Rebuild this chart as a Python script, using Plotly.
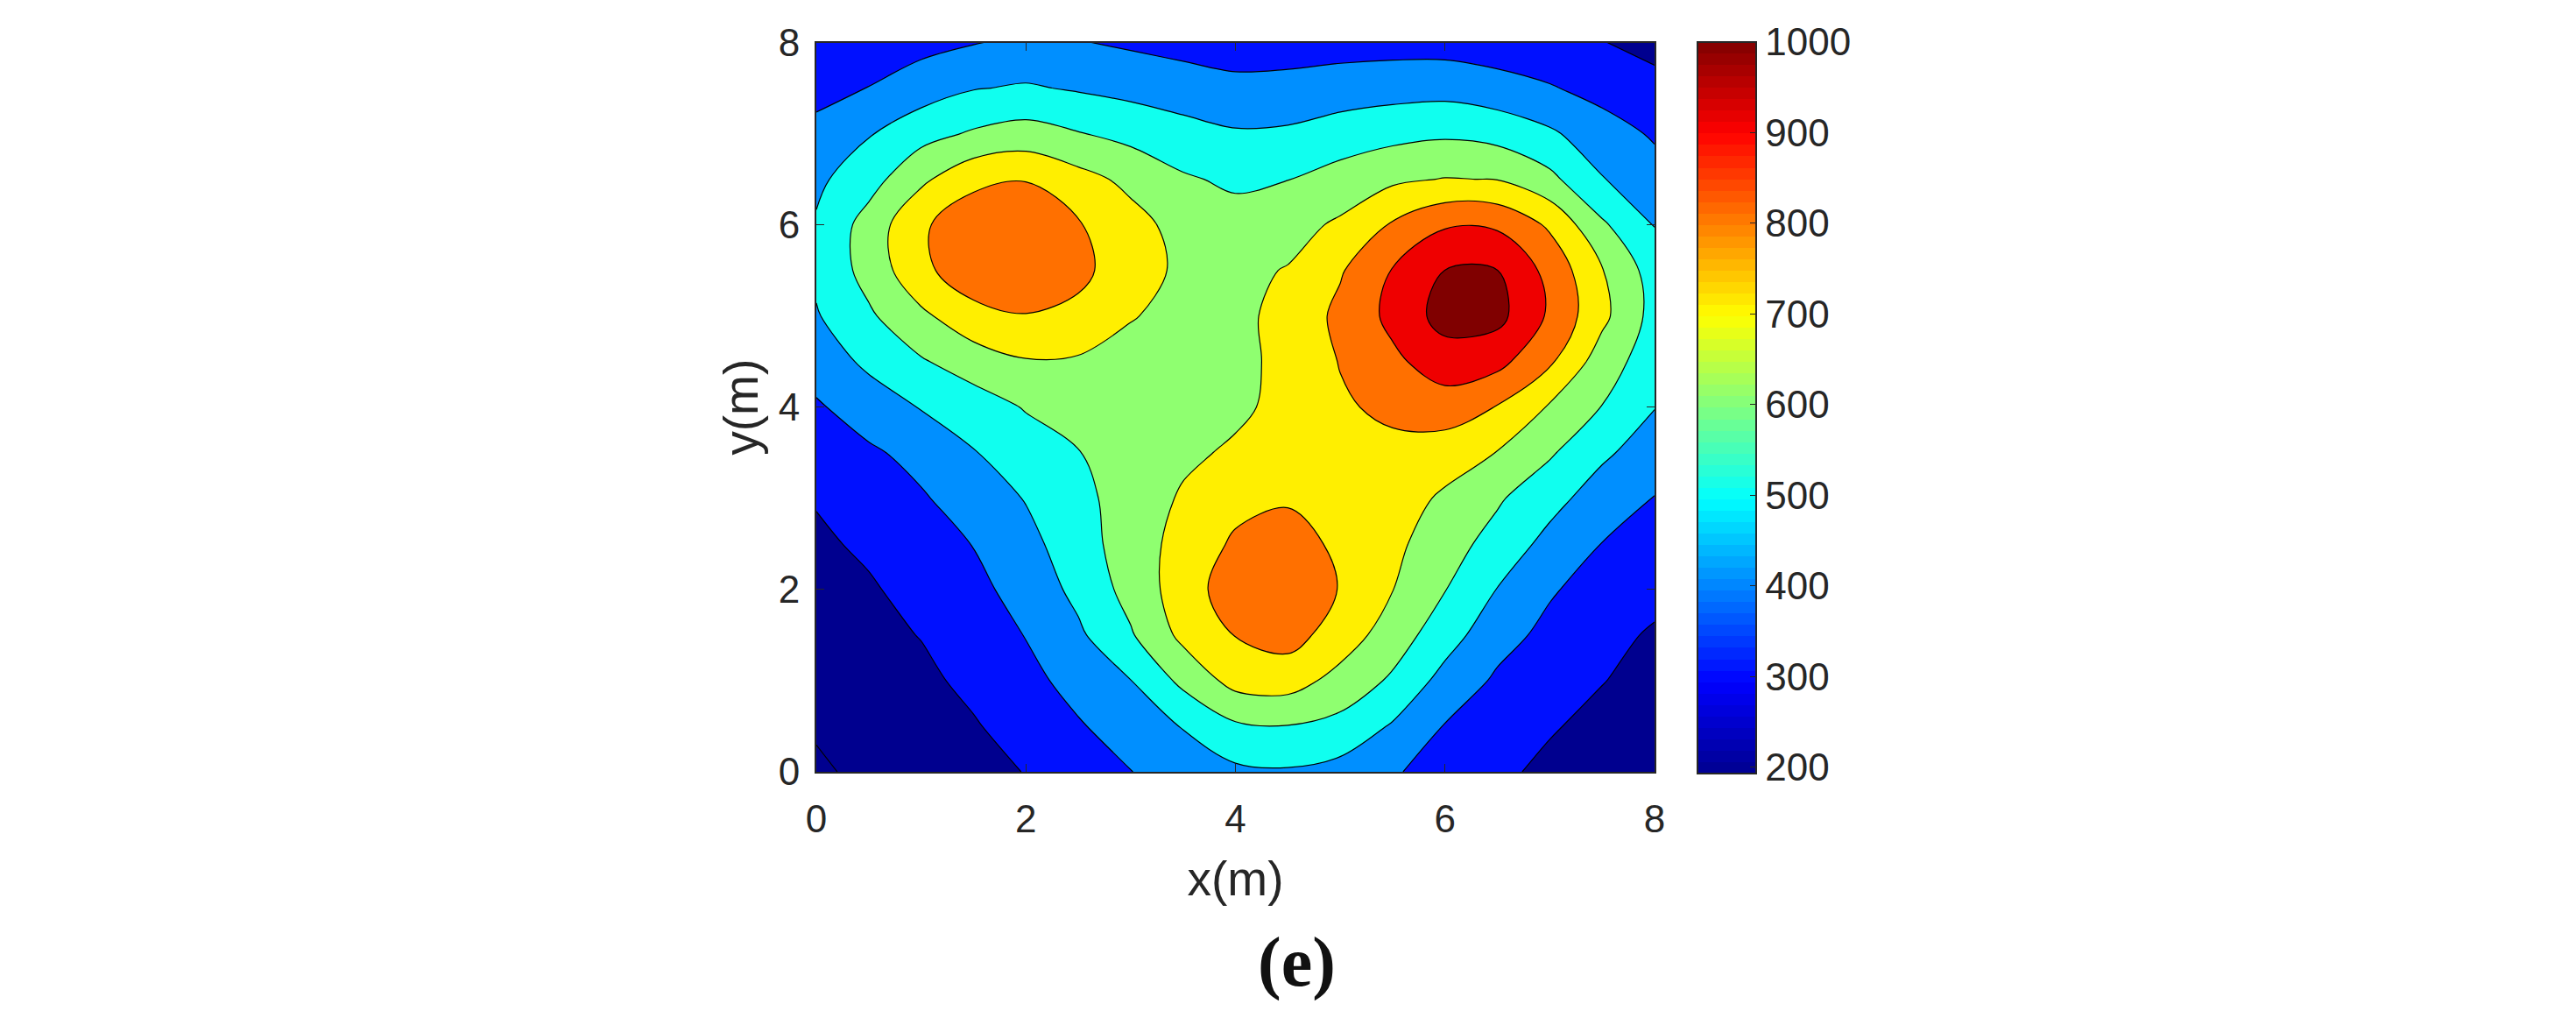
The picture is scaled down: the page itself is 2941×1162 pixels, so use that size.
import plotly.graph_objects as go

W, H = 2941, 1162
x_m = [0, 0.5, 1, 1.5, 2, 2.5, 3, 3.5, 4, 4.5, 5, 5.5, 6, 6.5, 7, 7.5, 8]
y_m = [0, 0.5, 1, 1.5, 2, 2.5, 3, 3.5, 4, 4.5, 5, 5.5, 6, 6.5, 7, 7.5, 8]
z_field = [
    [190, 215, 240, 270, 303, 350, 398, 445, 480, 490, 465, 410, 360, 318, 280, 250, 230],
    [207, 230, 260, 292, 340, 392, 440, 505, 585, 597, 570, 490, 395, 350, 308, 275, 250],
    [225, 250, 280, 322, 375, 430, 498, 625, 735, 745, 665, 585, 465, 385, 335, 303, 270],
    [245, 275, 303, 350, 403, 483, 590, 725, 803, 838, 755, 650, 545, 435, 375, 320, 292],
    [265, 290, 330, 372, 440, 525, 635, 750, 855, 880, 795, 702, 603, 497, 410, 360, 320],
    [285, 315, 355, 403, 470, 555, 650, 735, 815, 838, 782, 725, 640, 565, 468, 398, 358],
    [306, 345, 390, 445, 505, 575, 640, 712, 770, 790, 775, 745, 685, 612, 535, 450, 397],
    [340, 385, 430, 495, 550, 597, 640, 680, 715, 752, 765, 770, 745, 697, 612, 518, 448],
    [388, 448, 505, 550, 607, 640, 665, 680, 680, 730, 785, 825, 855, 795, 690, 597, 503],
    [445, 520, 590, 650, 693, 688, 670, 675, 685, 715, 805, 880, 950, 930, 815, 650, 545],
    [492, 585, 680, 765, 795, 775, 705, 675, 680, 725, 825, 925, 1040, 1030, 885, 725, 565],
    [520, 635, 775, 865, 885, 825, 745, 680, 678, 705, 790, 905, 1001, 1001, 870, 705, 555],
    [510, 640, 785, 862, 880, 808, 735, 665, 640, 665, 715, 810, 890, 885, 785, 615, 497],
    [480, 560, 680, 775, 795, 735, 675, 612, 582, 598, 640, 682, 704, 697, 625, 505, 440],
    [425, 493, 565, 612, 640, 605, 570, 535, 510, 515, 545, 570, 585, 565, 515, 445, 388],
    [372, 402, 450, 495, 510, 490, 470, 450, 428, 435, 450, 460, 465, 440, 408, 365, 328],
    [320, 345, 370, 395, 420, 405, 385, 365, 350, 350, 358, 362, 360, 345, 325, 303, 272],
]
band_colors = ["#00008f", "#00008f", "#0010ff", "#008fff", "#10ffef",
               "#8fff70", "#ffef00", "#ff7000", "#ef0000", "#800000"]
axis_ticks = [0, 2, 4, 6, 8]
bar_ticks = [200, 300, 400, 500, 600, 700, 800, 900, 1000]
bar_range = [193, 1000]
jet_anchors = [(0, (0, 0, 143)), (0.125, (0, 0, 255)), (0.375, (0, 255, 255)),
               (0.625, (255, 255, 0)), (0.875, (255, 0, 0)), (1, (128, 0, 0))]
INK = "#262626"
FONT = "Liberation Sans"


def jet(t):
    for (a, ca), (b, cb) in zip(jet_anchors, jet_anchors[1:]):
        if t <= b:
            f = (t - a) / (b - a)
            return "rgb(%d,%d,%d)" % tuple(round(p + (q - p) * f) for p, q in zip(ca, cb))
    return "rgb(128,0,0)"


jet_steps = []
for i in range(64):
    col = jet((i + 0.5) / 64)
    jet_steps += [[i / 64, col], [(i + 1) / 64, col]]

fig = go.Figure()
fig.add_trace(go.Contour(
    x=x_m, y=y_m, z=z_field,
    contours=dict(start=200, end=1000, size=100, coloring="fill", showlines=True),
    colorscale=[[i / 9, c] for i, c in enumerate(band_colors)],
    line=dict(color="black", width=1.2, smoothing=1.0),
    showscale=False, hoverinfo="skip",
))
fig.add_trace(go.Scatter(
    x=[None, None], y=[None, None], mode="markers", showlegend=False,
    marker=dict(
        color=bar_range, cmin=bar_range[0], cmax=bar_range[1], colorscale=jet_steps, showscale=True,
        colorbar=dict(
            x=1938 / W, xanchor="left", xref="paper", y=1 - 48 / H, yanchor="top", yref="paper",
            thickness=67, thicknessmode="pixels", len=835, lenmode="pixels", xpad=0, ypad=0,
            tickvals=bar_ticks, ticks="inside", ticklen=8, tickcolor=INK, tickwidth=1,
            outlinecolor=INK, outlinewidth=2, borderwidth=0, tickprefix="\u2009",
            tickfont=dict(family=FONT, size=44, color=INK),
        ),
    ),
))
common = dict(
    range=[0, 8], tickvals=axis_ticks, ticks="inside", ticklen=9, tickwidth=1, tickcolor=INK,
    showline=True, linecolor=INK, linewidth=2, mirror="allticks", showgrid=False, zeroline=False,
    layer="above traces", tickfont=dict(family=FONT, size=44, color=INK),
)
fig.update_layout(
    width=W, height=H, paper_bgcolor="white", plot_bgcolor="white", showlegend=False,
    margin=dict(l=0, r=0, t=0, b=0, autoexpand=False),
    xaxis=dict(domain=[932 / W, 1889 / W], ticklabelstandoff=14,
               title=dict(text="x(m)", font=dict(family=FONT, size=55, color=INK), standoff=26), **common),
    yaxis=dict(domain=[1 - 881 / H, 1 - 48.5 / H], ticklabelstandoff=8,
               title=dict(text="y(m)", font=dict(family=FONT, size=55, color=INK), standoff=5), **common),
    annotations=[dict(text="<b>(e)</b>", x=1480 / W, y=1 - 1103 / H, xref="paper", yref="paper",
                      yshift=-42, showarrow=False, font=dict(family="Liberation Serif", size=80, color="#111111"))],
)
fig.write_html("out.html", config=dict(displayModeBar=False), post_script="document.body.style.margin='0';")
